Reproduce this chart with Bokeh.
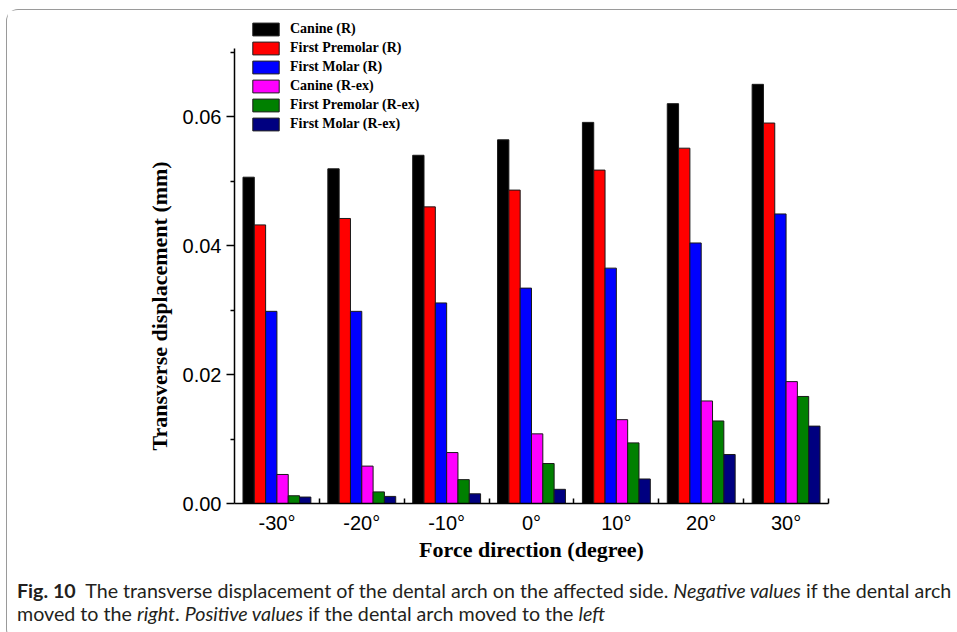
import math
import numpy as np
from bokeh.plotting import figure
from bokeh.models import (Range1d, FixedTicker, Legend, LegendItem, Title, Div,
                          NumeralTickFormatter)
from bokeh.layouts import column
from bokeh.embed import file_html
from bokeh.resources import INLINE

# ---------------- data ----------------
directions = ["-30°", "-20°", "-10°", "0°", "10°", "20°", "30°"]
series_names = ["Canine (R)", "First Premolar (R)", "First Molar (R)",
                "Canine (R-ex)", "First Premolar (R-ex)", "First Molar (R-ex)"]
canine_r     = [0.0506, 0.0519, 0.0540, 0.0564, 0.0591, 0.0620, 0.0650]
premolar_r   = [0.0432, 0.0442, 0.0460, 0.0486, 0.0517, 0.0551, 0.0590]
molar_r      = [0.0298, 0.0298, 0.0311, 0.0334, 0.0365, 0.0404, 0.0449]
canine_rex   = [0.0045, 0.0058, 0.0079, 0.0108, 0.0130, 0.0159, 0.0189]
premolar_rex = [0.0012, 0.0018, 0.0037, 0.0062, 0.0094, 0.0128, 0.0166]
molar_rex    = [0.0010, 0.0011, 0.0015, 0.0022, 0.0038, 0.0076, 0.0120]
series_values = [canine_r, premolar_r, molar_r, canine_rex, premolar_rex, molar_rex]
colors = ["#000000", "#ff0000", "#0000ff", "#ff00ff", "#008000", "#000080"]
y_major = [0.0, 0.02, 0.04, 0.06]
y_minor = [0.01, 0.03, 0.05, 0.07]
y_axis_top = 0.0705
y_view_top = 0.0749

# ---------------- figure ----------------
n = len(directions)
p = figure(frame_width=594, frame_height=483,
           x_range=Range1d(0, n), y_range=Range1d(0, y_view_top),
           min_border_left=227, min_border_right=128,
           min_border_top=10, min_border_bottom=62,
           output_backend="svg", toolbar_location=None,
           background_fill_color="white", border_fill_color="white")
p.outline_line_color = None
p.xgrid.visible = False
p.ygrid.visible = False

group_w = 0.8
bar_w = group_w / len(series_values)
base = np.arange(n) + 0.5
renderers = []
for j, (vals, col) in enumerate(zip(series_values, colors)):
    xs = base + (j - (len(series_values) - 1) / 2) * bar_w
    r = p.vbar(x=xs, top=vals, bottom=0, width=bar_w,
               fill_color=col, line_color="#1a1a1a", line_width=1)
    renderers.append(r)

# x axis
xa = p.xaxis[0]
xa.ticker = FixedTicker(ticks=list(base), minor_ticks=list(range(1, n + 1)))
xa.major_label_overrides = {float(b): lab for b, lab in zip(base, directions)}
xa.major_tick_line_color = None
xa.major_tick_in = 0
xa.major_tick_out = 0
xa.minor_tick_in = 5
xa.minor_tick_out = 0
xa.minor_tick_line_color = "black"
xa.minor_tick_line_width = 1.5
xa.axis_line_width = 1.5
xa.axis_line_color = "black"
xa.major_label_standoff = 8
xa.major_label_text_font = "Liberation Sans"
xa.major_label_text_font_size = "20px"
xa.major_label_text_color = "black"
xa.axis_label = "Force direction (degree)"
xa.axis_label_text_font = "Liberation Serif"
xa.axis_label_text_font_style = "bold"
xa.axis_label_text_font_size = "22px"
xa.axis_label_text_color = "black"
xa.axis_label_standoff = 0

# y axis
ya = p.yaxis[0]
ya.ticker = FixedTicker(ticks=y_major, minor_ticks=y_minor)
ya.bounds = (0, y_axis_top)
ya.formatter = NumeralTickFormatter(format="0.00")
ya.major_tick_in = 0
ya.major_tick_out = 8
ya.minor_tick_in = 0
ya.minor_tick_out = 4
ya.major_tick_line_width = 1.5
ya.minor_tick_line_width = 1.5
ya.axis_line_width = 1.5
ya.axis_line_color = "black"
ya.major_label_standoff = 5
ya.major_label_text_font = "Liberation Sans"
ya.major_label_text_font_size = "20px"
ya.major_label_text_color = "black"

# y-axis title as a side-panel title, shifted to sit where the reference has it
ytitle = Title(text="Transverse displacement (mm)", align="left", offset=53,
               standoff=16, text_font="Liberation Serif", text_font_style="bold",
               text_font_size="22px", text_color="black")
p.add_layout(ytitle, "left")

legend = Legend(items=[LegendItem(label=s, renderers=[r])
                       for s, r in zip(series_names, renderers)],
                location=(15, 371), glyph_width=33, glyph_height=16,
                label_height=16, spacing=3, label_standoff=8,
                padding=0, margin=0, border_line_color=None,
                background_fill_alpha=0,
                label_text_font="Liberation Serif", label_text_font_style="bold",
                label_text_font_size="14px", label_text_color="black")
p.add_layout(legend)

caption_html = (
    '<div style="padding:9px 0 0 5px;">'
    '<div style="font-family:Lato;font-size:19px;line-height:23px;'
    'color:#231f20;white-space:nowrap;transform:scaleX(1.035);transform-origin:0 0;">'
    '<b>Fig. 10</b>&nbsp; The transverse displacement of the dental arch on the affected side. '
    '<i>Negative values</i> if the dental arch<br>'
    'moved to the <i>right</i>. <i>Positive values</i> if the dental arch moved to the <i>left</i>'
    '</div></div>'
)
cap = Div(text=caption_html, width=949, height=65)

layout = column(p, cap, styles={"border": "1px solid #9a9a9a",
                                "border-right": "none",
                                "border-radius": "12px 0 0 12px",
                                "margin": "9px 0 0 6px",
                                "background": "white"})

open("out.html", "w").write(file_html(layout, INLINE))
